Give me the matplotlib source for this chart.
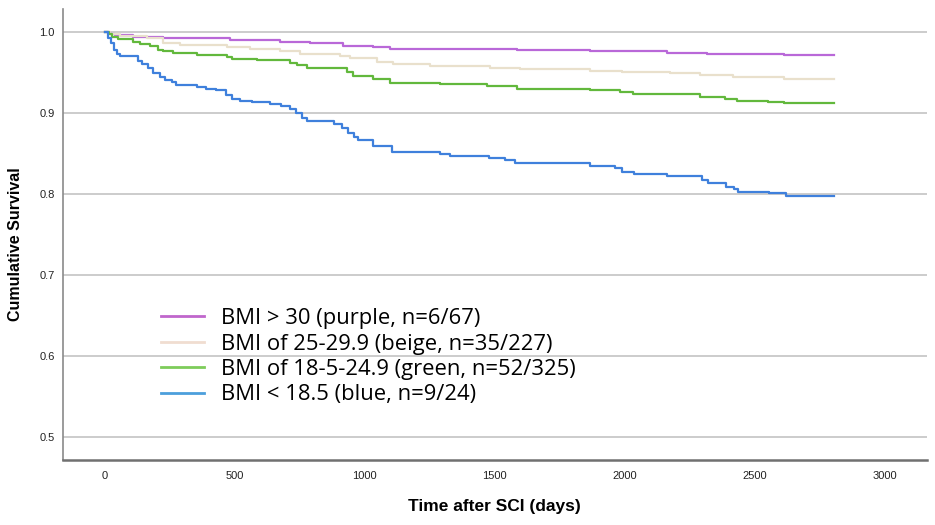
import matplotlib
matplotlib.use("Agg")
import matplotlib.pyplot as plt
from matplotlib.lines import Line2D

# Kaplan-Meier style curves (day where a step starts, survival)
blue_days = [0, 12, 23, 35, 46, 58, 127, 142, 165, 185, 212, 231, 258, 273, 354, 388, 427,
             465, 488, 519, 565, 635, 677, 711, 735, 758, 777, 881, 912, 935, 958, 973,
             1031, 1104, 1288, 1327, 1477, 1538, 1577, 1865, 1962, 1988, 2035, 2161,
             2296, 2319, 2388, 2419, 2435, 2554, 2619, 2804]
blue_surv = [1.000, 0.993, 0.986, 0.978, 0.973, 0.970, 0.964, 0.960, 0.956, 0.949, 0.944,
             0.941, 0.938, 0.935, 0.932, 0.930, 0.928, 0.922, 0.917, 0.915, 0.913, 0.911,
             0.908, 0.905, 0.900, 0.894, 0.890, 0.886, 0.881, 0.875, 0.870, 0.867, 0.859,
             0.852, 0.849, 0.847, 0.844, 0.842, 0.838, 0.835, 0.832, 0.827, 0.825, 0.822,
             0.817, 0.814, 0.809, 0.806, 0.803, 0.801, 0.798, 0.798]

green_days = [0, 15, 27, 50, 108, 135, 173, 204, 223, 262, 354, 469, 488, 585, 711, 738,
              777, 931, 954, 1031, 1096, 1288, 1469, 1585, 1865, 1981, 2031, 2288, 2385,
              2431, 2550, 2615, 2804]
green_surv = [1.000, 0.997, 0.994, 0.991, 0.988, 0.985, 0.983, 0.978, 0.976, 0.974, 0.972,
              0.969, 0.966, 0.965, 0.962, 0.959, 0.955, 0.950, 0.946, 0.942, 0.937, 0.936,
              0.933, 0.930, 0.928, 0.926, 0.923, 0.920, 0.917, 0.915, 0.913, 0.912, 0.912]

beige_days = [0, 19, 58, 162, 223, 288, 469, 558, 673, 750, 904, 942, 1046, 1108, 1250,
              1481, 1596, 1865, 1988, 2173, 2288, 2415, 2615, 2804]
beige_surv = [1.000, 0.998, 0.995, 0.992, 0.986, 0.984, 0.982, 0.979, 0.977, 0.973, 0.970,
              0.968, 0.963, 0.960, 0.958, 0.956, 0.954, 0.952, 0.950, 0.949, 0.947, 0.944,
              0.942, 0.942]

purple_days = [0, 19, 38, 108, 223, 481, 673, 788, 915, 1031, 1096, 1585, 1865, 1981,
               2161, 2315, 2615, 2804]
purple_surv = [1.000, 0.998, 0.996, 0.994, 0.992, 0.990, 0.988, 0.986, 0.983, 0.981,
               0.979, 0.978, 0.977, 0.976, 0.974, 0.973, 0.972, 0.972]

legend_labels = ["BMI > 30 (purple, n=6/67)",
                 "BMI of 25-29.9 (beige, n=35/227)",
                 "BMI of 18-5-24.9 (green, n=52/325)",
                 "BMI < 18.5 (blue, n=9/24)"]

fig = plt.figure(figsize=(9.35, 5.25), dpi=100)
ax = fig.add_axes([0.0674, 0.1238, 0.9236, 0.8592])

for y in [0.5, 0.6, 0.7, 0.8, 0.9, 1.0]:
    ax.axhline(y, color="#c8c8c8", lw=1.3, zorder=1)

ax.step(purple_days, purple_surv, where="post", color="#b968d8", lw=1.6, zorder=3)
ax.step(beige_days, beige_surv, where="post", color="#e9e0cc", lw=1.6, zorder=3)
ax.step(green_days, green_surv, where="post", color="#62b83c", lw=1.6, zorder=3)
ax.step(blue_days, blue_surv, where="post", color="#3f80dc", lw=1.6, zorder=3)

ax.set_xlim(-162, 3162)
ax.set_ylim(0.4716, 1.0284)
ax.set_xticks([0, 500, 1000, 1500, 2000, 2500, 3000])
ax.set_yticks([0.5, 0.6, 0.7, 0.8, 0.9, 1.0])
ax.set_yticklabels(["0.5", "0.6", "0.7", "0.8", "0.9", "1.0"])
ax.tick_params(length=0, labelsize=8, colors="#222222", labelfontfamily="Liberation Sans")
ax.tick_params(axis="x", pad=8)
ax.tick_params(axis="y", pad=6)

for s in ["top", "right"]:
    ax.spines[s].set_visible(False)
ax.spines["left"].set_color("#8a8a8a")
ax.spines["left"].set_linewidth(1.2)
ax.spines["bottom"].set_color("#707070")
ax.spines["bottom"].set_linewidth(1.8)

ax.set_xlabel("Time after SCI (days)", fontsize=12.5, fontweight="bold",
              family="Liberation Sans", labelpad=13, x=0.5)
ax.set_ylabel("Cumulative Survival", fontsize=11.5, fontweight="bold",
              family="Liberation Sans", labelpad=12, y=0.479)

handles = [Line2D([], [], color=c, lw=2) for c in ["#c066cc", "#f0ddd0", "#7dcc5a", "#4c9fdc"]]
fig.legend(handles, legend_labels, loc="upper left", bbox_to_anchor=(0.160, 0.434),
           frameon=False, prop={"family": "Open Sans", "size": 15.8}, handlelength=1.96,
           handletextpad=0.78, labelspacing=0.2, borderpad=0)

fig.savefig("out.png", dpi=100)
